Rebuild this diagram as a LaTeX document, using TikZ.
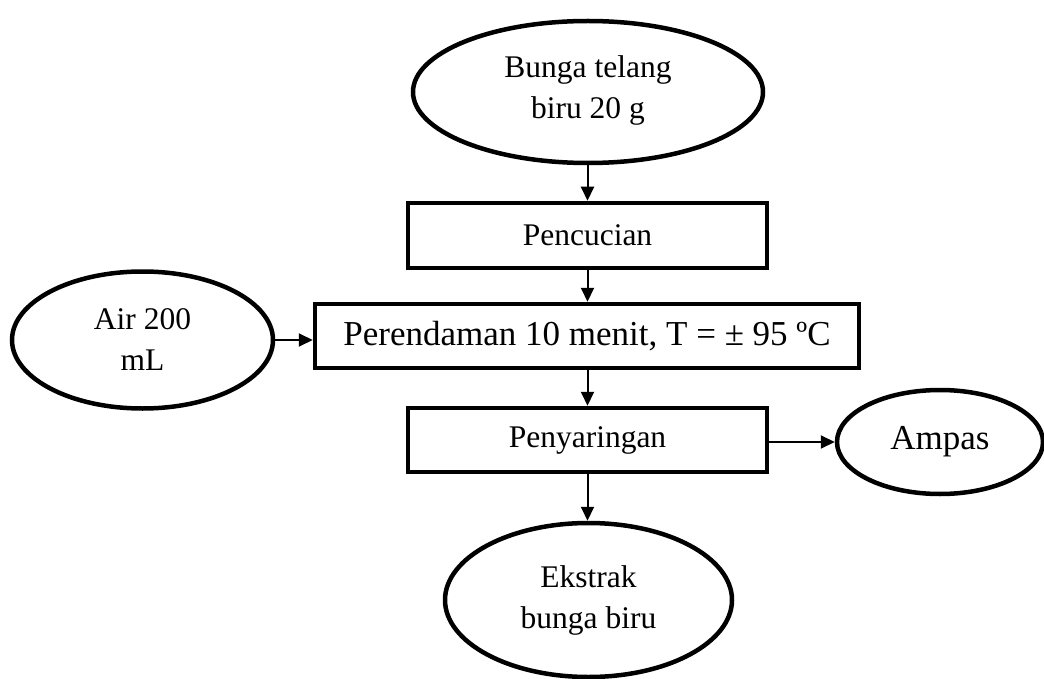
\documentclass[tikz,border=0pt]{standalone}
\usepackage{fontspec}
\setmainfont{Liberation Serif}
\usetikzlibrary{shapes.geometric,arrows.meta}
\begin{document}
\begin{tikzpicture}[x=1pt,y=-1pt,
  txt/.style={font=\fontsize{31.5}{41}\selectfont},
  bigtxt/.style={font=\fontsize{35}{41}\selectfont},
  box/.style={draw,line width=4.5pt,rectangle,inner sep=0pt,txt},
  oval/.style={draw,line width=4.5pt,ellipse,inner sep=0pt,align=center,txt},
  arr/.style={line width=2pt,-{Triangle[length=14pt,width=13pt]}}]
\useasboundingbox (0,0) rectangle (1044,679);

\node[oval,minimum width=350pt,minimum height=142pt] (top) at (588,92) {Bunga telang\\biru 20 g\\[-31pt]};
\node[box,minimum width=359pt,minimum height=65pt] (pen) at (587.5,235.5) {Pencucian};
\node[box,bigtxt,minimum width=544pt,minimum height=64pt] (per) at (587,336) {Perendaman 10 menit, T = ± 95 ºC};
\node[oval,minimum width=261pt,minimum height=137pt] (air) at (142.5,340) {Air 200\\mL};
\node[box,minimum width=359pt,minimum height=64pt] (pys) at (587.5,440) {Penyaringan};
\node[oval,bigtxt,minimum width=206pt,minimum height=104pt] (amp) at (940,442) {Ampas};
\node[oval,minimum width=287pt,minimum height=154pt] (eks) at (588.5,600) {Ekstrak\\bunga biru};

\draw[arr] (top.south -| pen.north) -- (pen.north);
\draw[arr] (pen.south) -- (per.north -| pen.south);
\draw[arr] (air.east) -- (per.west |- air.east);
\draw[arr] (per.south -| pys.north) -- (pys.north);
\draw[arr] (pys.east |- amp.west) -- (amp.west);
\draw[arr] (pys.south) -- (eks.north -| pys.south);
\end{tikzpicture}
\end{document}
